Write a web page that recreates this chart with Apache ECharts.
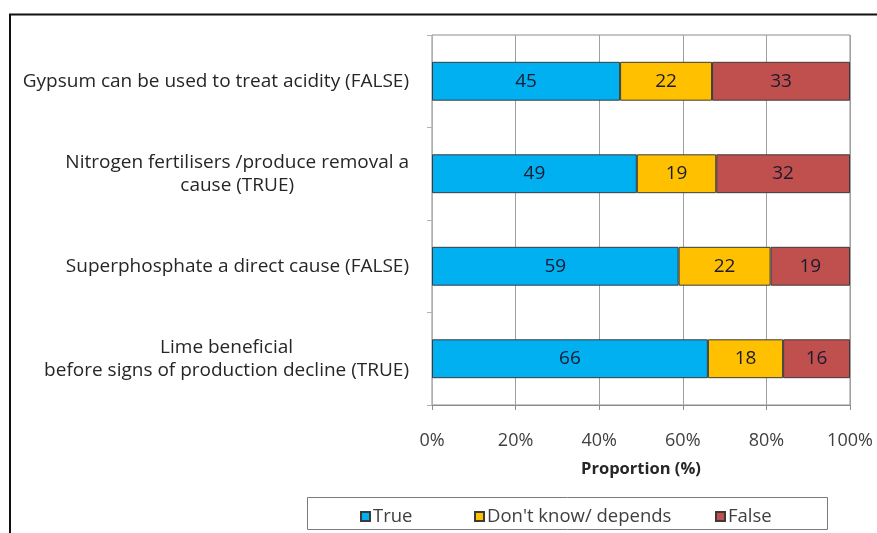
<!DOCTYPE html>
<html>
<head>
<meta charset="utf-8">
<script src="https://cdn.jsdelivr.net/npm/echarts@6/dist/echarts.min.js"></script>
<style>
  html, body { margin: 0; padding: 0; background: #fff; }
  #chart { width: 877px; height: 533px; }
</style>
</head>
<body>
<div id="chart"></div>
<script>
// Survey statements about soil acidity, with answer shares in percent
const categories = [
  'Gypsum can be used to treat acidity (FALSE)',
  'Nitrogen fertilisers /produce removal a\ncause (TRUE)',
  'Superphosphate a direct cause (FALSE)',
  'Lime beneficial\nbefore signs of production decline (TRUE)'
];
const trueShare = [45, 49, 59, 66];
const dontKnowShare = [22, 19, 22, 18];
const falseShare = [33, 32, 19, 16];
const xTicks = [0, 20, 40, 60, 80, 100];

const FONT = '"Open Sans", "Noto Sans", sans-serif';
const chart = echarts.init(document.getElementById('chart'), null, { renderer: 'canvas' });

function barSeries(name, data, color) {
  return {
    name: name,
    type: 'bar',
    stack: 'all',
    data: data,
    barCategoryGap: '58%',
    itemStyle: { color: color, borderColor: '#3a3a3a', borderWidth: 1 },
    label: {
      show: true,
      position: 'inside',
      color: '#1a1a30',
      fontFamily: FONT,
      fontSize: 19
    },
    emphasis: { disabled: true }
  };
}

function legendAt(name, left) {
  return {
    data: [name],
    left: left,
    top: 502,
    icon: 'rect',
    itemWidth: 9,
    itemHeight: 9,
    itemGap: 4,
    textStyle: { fontFamily: FONT, fontSize: 18.5, color: '#404040', padding: [0, 0, 0, -2] },
    selectedMode: false
  };
}

chart.setOption({
  animation: false,
  backgroundColor: '#ffffff',
  textStyle: { fontFamily: FONT },
  grid: {
    left: 432, right: 27, top: 35, bottom: 128,
    show: true, borderColor: '#8c8c8c', borderWidth: 1,
    containLabel: false
  },
  xAxis: {
    type: 'value',
    min: 0, max: 100, interval: 20,
    name: 'Proportion (%)',
    nameLocation: 'middle',
    nameGap: 56,
    nameTextStyle: { fontFamily: FONT, fontSize: 16.5, fontWeight: 'bold', color: '#262626' },
    axisLine: { show: true, lineStyle: { color: '#8c8c8c' } },
    axisTick: { show: true, length: 5, lineStyle: { color: '#8c8c8c' } },
    splitLine: { show: true, lineStyle: { color: '#a0a0a0' } },
    axisLabel: {
      margin: 27,
      fontFamily: FONT, fontSize: 18, color: '#404040',
      formatter: function (v) { return xTicks.indexOf(v) >= 0 ? v + '%' : ''; }
    }
  },
  yAxis: {
    type: 'category',
    data: categories,
    inverse: true,
    axisLine: { show: true, lineStyle: { color: '#b0b0b0' } },
    axisTick: { show: true, length: 5, lineStyle: { color: '#b0b0b0' } },
    axisLabel: {
      margin: 23,
      fontFamily: FONT, fontSize: 19, color: '#262626',
      lineHeight: 23,
      formatter: function (v) {
        return v.split('\n').map(function (l) { return '{c|' + l + '}'; }).join('\n');
      },
      rich: { c: { align: 'center', fontFamily: FONT, fontSize: 19, color: '#262626', lineHeight: 23 } }
    }
  },
  legend: [
    legendAt('True', 355),
    legendAt("Don't know/ depends", 469),
    legendAt('False', 710)
  ],
  series: [
    barSeries('True', trueShare, '#00b0f0'),
    barSeries("Don't know/ depends", dontKnowShare, '#ffc000'),
    barSeries('False', falseShare, '#c0504d')
  ],
  graphic: [
    // outer frame (top and left edges)
    { type: 'line', shape: { x1: 9, y1: 14.5, x2: 877, y2: 14.5 }, style: { stroke: '#111', lineWidth: 2 }, silent: true },
    { type: 'line', shape: { x1: 10, y1: 14, x2: 10, y2: 533 }, style: { stroke: '#111', lineWidth: 2 }, silent: true },
    // legend box
    { type: 'rect', shape: { x: 307.5, y: 497.5, width: 520, height: 32 }, style: { fill: 'none', stroke: '#7a7a7a', lineWidth: 1 }, silent: true }
  ]
});
</script>
</body>
</html>
